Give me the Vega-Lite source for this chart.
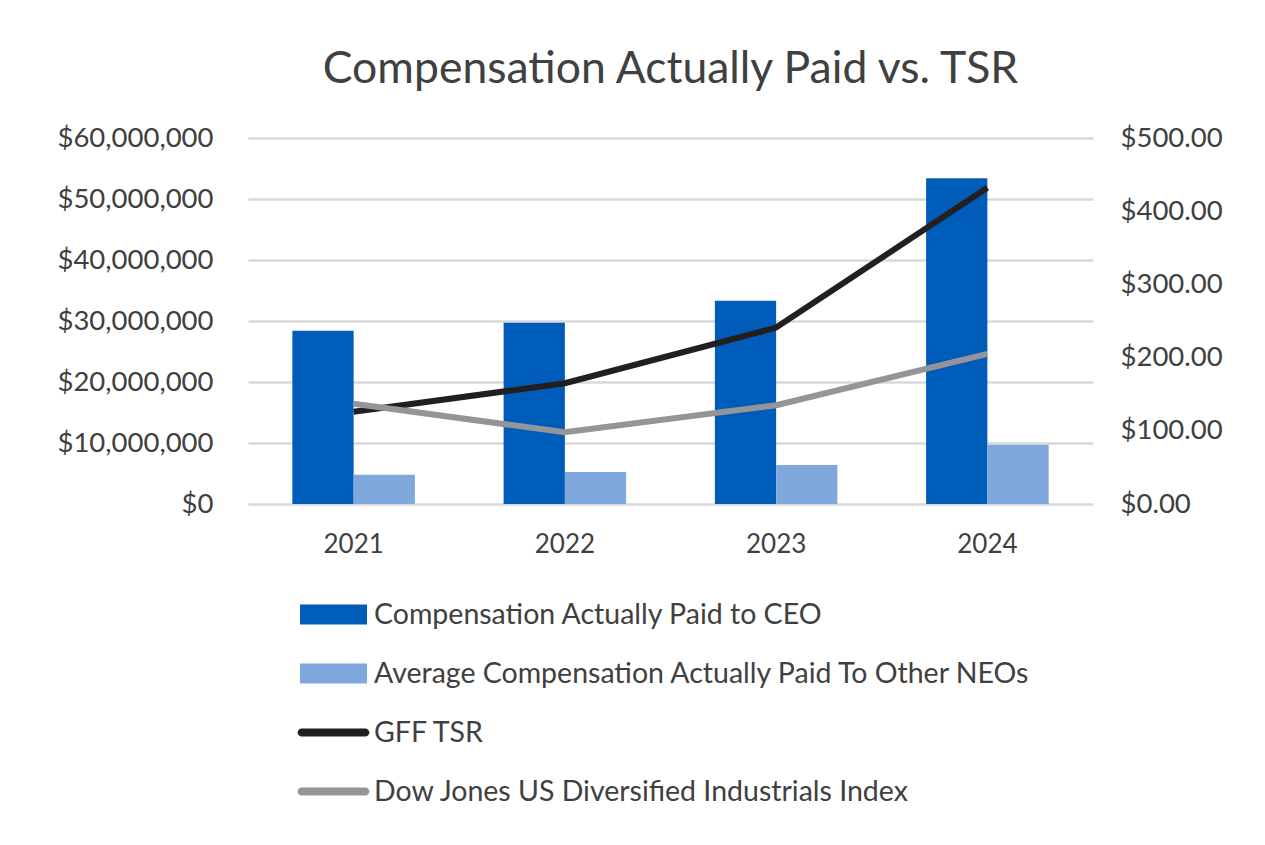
{
  "$schema": "https://vega.github.io/schema/vega-lite/v6.json",
  "width": 845,
  "height": 366,
  "autosize": {"type": "none"},
  "padding": {"left": 248, "top": 138, "right": 172, "bottom": 341},
  "background": "white",
  "title": {"text": "Compensation Actually Paid vs. TSR", "fontSize": 44.5, "font": "Lato", "fontWeight": "normal", "color": "#404040", "anchor": "middle", "offset": 32},
  "config": {"view": {"stroke": null}, "font": "Lato"},
  "datasets": {
    "comp": [
      {"year": "2021", "series": "Compensation Actually Paid to CEO", "value": 28400000},
      {"year": "2021", "series": "Average Compensation Actually Paid To Other NEOs", "value": 4800000},
      {"year": "2022", "series": "Compensation Actually Paid to CEO", "value": 29700000},
      {"year": "2022", "series": "Average Compensation Actually Paid To Other NEOs", "value": 5250000},
      {"year": "2023", "series": "Compensation Actually Paid to CEO", "value": 33300000},
      {"year": "2023", "series": "Average Compensation Actually Paid To Other NEOs", "value": 6400000},
      {"year": "2024", "series": "Compensation Actually Paid to CEO", "value": 53400000},
      {"year": "2024", "series": "Average Compensation Actually Paid To Other NEOs", "value": 9700000}
    ],
    "tsr": [
      {"year": "2021", "series": "GFF TSR", "value": 126},
      {"year": "2022", "series": "GFF TSR", "value": 165},
      {"year": "2023", "series": "GFF TSR", "value": 241},
      {"year": "2024", "series": "GFF TSR", "value": 432},
      {"year": "2021", "series": "Dow Jones US Diversified Industrials Index", "value": 137},
      {"year": "2022", "series": "Dow Jones US Diversified Industrials Index", "value": 98},
      {"year": "2023", "series": "Dow Jones US Diversified Industrials Index", "value": 135},
      {"year": "2024", "series": "Dow Jones US Diversified Industrials Index", "value": 205}
    ]
  },
  "layer": [
    {
      "data": {"name": "comp"},
      "mark": {"type": "bar"},
      "encoding": {
        "x": {
          "field": "year", "type": "nominal",
          "scale": {"paddingInner": 0.42, "paddingOuter": 0.21},
          "axis": {"title": null, "labelAngle": 0, "domain": false, "ticks": false, "labelFontSize": 26, "labelColor": "#404040", "labelPadding": 27, "labelFont": "Lato"}
        },
        "xOffset": {"field": "series", "type": "nominal", "scale": {"domain": ["Compensation Actually Paid to CEO", "Average Compensation Actually Paid To Other NEOs"], "paddingInner": 0, "paddingOuter": 0}},
        "y": {
          "field": "value", "type": "quantitative",
          "scale": {"domain": [0, 60000000], "nice": false},
          "axis": {"title": null, "format": "$,.0f", "values": [0, 10000000, 20000000, 30000000, 40000000, 50000000, 60000000], "domain": false, "ticks": false, "labelFontSize": 27.5, "labelColor": "#404040", "labelPadding": 35, "labelFont": "Lato", "gridColor": "#d9d9d9", "gridWidth": 2.5}
        },
        "color": {
          "field": "series", "type": "nominal",
          "scale": {
            "domain": ["Compensation Actually Paid to CEO", "Average Compensation Actually Paid To Other NEOs", "GFF TSR", "Dow Jones US Diversified Industrials Index"],
            "range": ["#005cb9", "#7fa8dc", "#231f20", "#939598"]
          },
          "legend": {
            "orient": "none", "legendX": 52, "legendY": 443, "direction": "vertical", "title": null,
            "labelFontSize": 28.5, "labelColor": "#404040", "labelFont": "Lato", "labelLimit": 0,
            "symbolSize": 4489, "rowPadding": 11, "labelOffset": 7,
            "encode": {
              "symbols": {
                "update": {
                  "shape": {"signal": "(datum.value === 'GFF TSR' || datum.value === 'Dow Jones US Diversified Industrials Index') ? 'M-0.95,-0.12H0.95A0.12,0.12,0,0,1,0.95,0.12H-0.95A0.12,0.12,0,0,1,-0.95,-0.12Z' : 'M-1,-0.3H1V0.3H-1Z'"},
                  "fill": {"signal": "scale('color', datum.value)"},
                  "strokeWidth": {"value": 0},
                  "opacity": {"value": 1}
                }
              }
            }
          }
        }
      }
    },
    {
      "data": {"name": "tsr"},
      "layer": [
        {
          "transform": [{"filter": "datum.series === 'GFF TSR'"}],
          "mark": {"type": "line", "strokeWidth": 6},
          "encoding": {
            "x": {"field": "year", "type": "nominal"},
            "y": {
              "field": "value", "type": "quantitative",
              "scale": {"domain": [0, 500], "nice": false},
              "axis": {"orient": "right", "title": null, "format": "$,.2f", "values": [0, 100, 200, 300, 400, 500], "grid": false, "domain": false, "ticks": false, "labelFontSize": 27.5, "labelColor": "#404040", "labelPadding": 27, "labelFont": "Lato"}
            },
            "color": {"field": "series", "type": "nominal"}
          }
        },
        {
          "transform": [{"filter": "datum.series !== 'GFF TSR'"}],
          "mark": {"type": "line", "strokeWidth": 6},
          "encoding": {
            "x": {"field": "year", "type": "nominal"},
            "y": {"field": "value", "type": "quantitative"},
            "color": {"field": "series", "type": "nominal"}
          }
        }
      ]
    }
  ],
  "resolve": {"scale": {"y": "independent"}}
}
